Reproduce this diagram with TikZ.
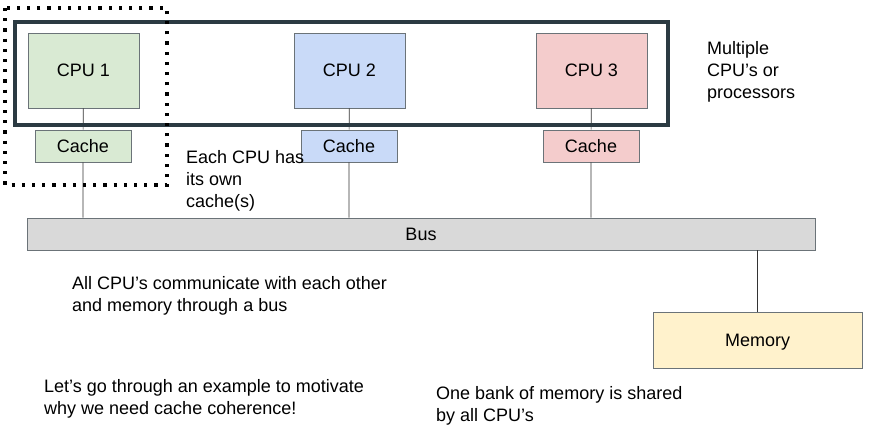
\documentclass[tikz,border=0pt]{standalone}
\usepackage{fontspec}
\setmainfont{Liberation Sans}
\definecolor{cpuA}{HTML}{D9EAD3}
\definecolor{cpuB}{HTML}{C9DAF8}
\definecolor{cpuC}{HTML}{F4CCCC}
\definecolor{busgray}{HTML}{D9D9D9}
\definecolor{memfill}{HTML}{FFF2CC}
\definecolor{edgegray}{HTML}{6B7378}
\definecolor{framedark}{HTML}{2B3A42}
\tikzset{
  unit/.style={draw=edgegray, line width=0.9pt, inner sep=0pt, text height=12.9pt, text depth=0pt, font=\fontsize{18}{22}\selectfont},
  cpubox/.style={unit, minimum width=111pt, minimum height=75pt},
  cachebox/.style={unit, minimum width=96pt, minimum height=32pt},
  note/.style={inner sep=0pt, anchor=west, align=left, font=\fontsize{18}{22}\selectfont},
  wire/.style={draw=black!80, line width=0.7pt}
}
\begin{document}
\begin{tikzpicture}[x=1pt,y=-1pt]
            \useasboundingbox (0,0) rectangle (870,429);

            \node[cpubox, fill=cpuA] (P1) at (83.5,70.5) {CPU 1};
            \node[cpubox, fill=cpuB] (P2) at (349.5,70.5) {CPU 2};
            \node[cpubox, fill=cpuC] (P3) at (591.5,70.5) {CPU 3};

            \node[cachebox, fill=cpuA] (K1) at (83,146) {Cache};
            \node[cachebox, fill=cpuB] (K2) at (349,146) {Cache};
            \node[cachebox, fill=cpuC] (K3) at (591,146) {Cache};

            \node[unit, fill=busgray, minimum width=788pt, minimum height=32pt] (Bus) at (421,234) {Bus};
            \node[unit, fill=memfill, minimum width=209pt, minimum height=56pt] (Mem) at (757.5,340) {Memory};

            \draw[wire] (P1) -- (K1) -- (K1 |- Bus.north);
            \draw[wire] (P2) -- (K2) -- (K2 |- Bus.north);
            \draw[wire] (P3) -- (K3) -- (K3 |- Bus.north);
            \draw[wire] (Mem.north |- Bus.south) -- (Mem.north);

            \draw[framedark, line width=3.4pt] (15,22) rectangle (668,125);
            \draw[black, line width=3.2pt, dash pattern=on 3.2pt off 7pt] (5,8) rectangle (167,185);

            \node[note] (NCpu) at (707,71.5) {Multiple\\CPU’s or\\processors};
            \node[note] (NCache) at (186,181) {Each CPU has\\its own\\cache(s)};
            \node[note] (NBus) at (72,296) {All CPU’s communicate with each other\\and memory through a bus};
            \node[note] (NEx) at (44,399) {Let’s go through an example to motivate\\why we need cache coherence!};
            \node[note] (NMem) at (436,406) {One bank of memory is shared\\by all CPU’s};
          \end{tikzpicture}
\end{document}
